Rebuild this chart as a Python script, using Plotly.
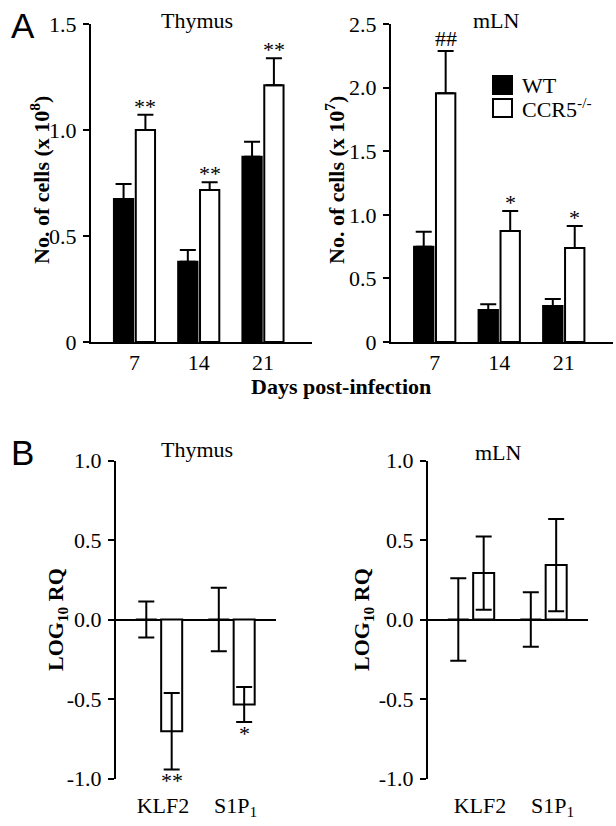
import plotly.graph_objects as go

# ---------------- data ----------------
days = ["7", "14", "21"]
thy_wt = [0.675, 0.379, 0.874]
thy_wt_err = [0.070, 0.055, 0.071]
thy_ko = [1.000, 0.717, 1.211]
thy_ko_err = [0.072, 0.036, 0.127]
thy_marks = ["**", "**", "**"]

mln_wt = [0.749, 0.252, 0.283]
mln_wt_err = [0.118, 0.044, 0.055]
mln_ko = [1.955, 0.873, 0.739]
mln_ko_err = [0.333, 0.157, 0.173]
mln_marks = ["##", "*", "*"]

genes = ["KLF2", "S1P<sub>1</sub>"]
rq_thy_wt = [0.0, 0.0]
rq_thy_wt_err = [0.113, 0.200]
rq_thy_ko = [-0.703, -0.535]
rq_thy_ko_err = [0.240, 0.110]
rq_thy_marks = ["**", "*"]

rq_mln_wt = [0.0, 0.0]
rq_mln_wt_err = [0.260, 0.171]
rq_mln_ko = [0.292, 0.342]
rq_mln_ko_err = [0.230, 0.290]

SERIF = "Liberation Serif"
SANS = "Liberation Sans"
FS = 22
W, H = 616, 826


def px_x(p):
    return p / W


def px_y(p):
    return 1 - p / H


fig = go.Figure()

# geometry (in category units)
A_W = 0.30
A_OFF_WT = -0.32
A_OFF_KO = 0.02
B_W = 0.29
B_OFF_WT = -0.32
B_OFF_KO = 0.03


def add_pair(xa, ya, cats, wt, wterr, ko, koerr, w, owt, oko, onesided):
    common_line = dict(color="black", width=2)
    if onesided:
        ewt = dict(type="data", array=wterr, arrayminus=[0] * len(wterr), symmetric=False,
                   color="black", thickness=2, width=8)
        eko = dict(type="data", array=koerr, arrayminus=[0] * len(koerr), symmetric=False,
                   color="black", thickness=2, width=8)
    else:
        ewt = dict(type="data", array=wterr, color="black", thickness=2, width=8)
        eko = dict(type="data", array=koerr, color="black", thickness=2, width=8)
    fig.add_trace(go.Bar(x=cats, y=wt, name="WT", width=w, offset=owt,
                         marker=dict(color="black", line=common_line),
                         error_y=ewt, xaxis=xa, yaxis=ya, showlegend=False, hoverinfo="skip"))
    fig.add_trace(go.Bar(x=cats, y=ko, name="CCR5-/-", width=w, offset=oko,
                         marker=dict(color="white", line=common_line),
                         error_y=eko, xaxis=xa, yaxis=ya, showlegend=False, hoverinfo="skip"))


add_pair("x", "y", days, thy_wt, thy_wt_err, thy_ko, thy_ko_err, A_W, A_OFF_WT, A_OFF_KO, True)
add_pair("x2", "y2", days, mln_wt, mln_wt_err, mln_ko, mln_ko_err, A_W, A_OFF_WT, A_OFF_KO, True)
add_pair("x3", "y3", genes, rq_thy_wt, rq_thy_wt_err, rq_thy_ko, rq_thy_ko_err, B_W, B_OFF_WT, B_OFF_KO, False)
add_pair("x4", "y4", genes, rq_mln_wt, rq_mln_wt_err, rq_mln_ko, rq_mln_ko_err, B_W, B_OFF_WT, B_OFF_KO, False)

tickfont = dict(family=SERIF, size=FS, color="black")

yA_dom = [px_y(342), px_y(24)]
yB_dom = [px_y(778.5), px_y(460.5)]

xA_range = [-0.677, 2.763]
xB_range = [-0.593, 1.614]

axA_x = dict(type="category", showline=True, linecolor="black", linewidth=2, ticks="", ticklen=0,
             tickfont=tickfont, ticklabelstandoff=0, range=xA_range, showgrid=False,
             zeroline=False, automargin=False)
axB_x = dict(type="category", showline=False, ticks="", ticklen=0, tickfont=tickfont,
             ticklabelstandoff=11, range=xB_range, showgrid=False, zeroline=False,
             automargin=False)

axY = dict(showline=True, linecolor="black", linewidth=2, ticks="outside", ticklen=6,
           tickwidth=2, tickcolor="black", tickfont=tickfont, showgrid=False,
           zeroline=False, ticklabelstandoff=2, automargin=False)

fig.update_layout(
    width=W, height=H, margin=dict(l=0, r=0, t=0, b=0, autoexpand=False),
    paper_bgcolor="white", plot_bgcolor="white",
    barmode="overlay", showlegend=False, hovermode=False,
    font=dict(family=SERIF, size=FS, color="black"),
    xaxis=dict(axA_x, domain=[px_x(91), px_x(312)], anchor="y"),
    yaxis=dict(axY, domain=yA_dom, anchor="x", range=[0, 1.5],
               tickvals=[0, 0.5, 1.0, 1.5], ticktext=["0", "0.5", "1.0", "1.5"]),
    xaxis2=dict(axA_x, domain=[px_x(391), px_x(613)], anchor="y2"),
    yaxis2=dict(axY, domain=yA_dom, anchor="x2", range=[0, 2.5],
                tickvals=[0, 0.5, 1.0, 1.5, 2.0, 2.5],
                ticktext=["0", "0.5", "1.0", "1.5", "2.0", "2.5"]),
    xaxis3=dict(axB_x, domain=[px_x(116), px_x(276)], anchor="y3", ticklabelshift=4),
    yaxis3=dict(axY, domain=yB_dom, anchor="x3", range=[-1, 1],
                tickvals=[-1, -0.5, 0, 0.5, 1], ticktext=["-1.0", "-0.5", "0.0", "0.5", "1.0"],
                zeroline=True, zerolinecolor="black", zerolinewidth=2),
    xaxis4=dict(axB_x, domain=[px_x(428), px_x(588)], anchor="y4", ticklabelshift=9),
    yaxis4=dict(axY, domain=yB_dom, anchor="x4", range=[-1, 1],
                tickvals=[-1, -0.5, 0, 0.5, 1], ticktext=["-1.0", "-0.5", "0.0", "0.5", "1.0"],
                zeroline=True, zerolinecolor="black", zerolinewidth=2),
)

ann = []
txt = dict(family=SERIF, size=FS, color="black")
bold = dict(family=SERIF, size=FS, color="black")


def P(x, y, text, font=txt, **kw):
    d = dict(xref="paper", yref="paper", x=px_x(x), y=px_y(y), text=text, showarrow=False,
             xanchor="center", yanchor="middle", font=font)
    d.update(kw)
    return d


# significance marks above CCR5 bars (panel A)
for i in range(len(days)):
    ann.append(dict(xref="x", yref="y", x=i + A_OFF_KO + A_W / 2, y=thy_ko[i] + thy_ko_err[i],
                    text=thy_marks[i], showarrow=False, xanchor="center", yanchor="bottom",
                    yshift=-6, font=txt))
    ann.append(dict(xref="x2", yref="y2", x=i + A_OFF_KO + A_W / 2, y=mln_ko[i] + mln_ko_err[i],
                    text=mln_marks[i], showarrow=False, xanchor="center", yanchor="bottom",
                    yshift=(-2 if mln_marks[i] == "##" else -6), font=txt))
# significance marks below CCR5 bars (panel B thymus)
for i in range(len(genes)):
    ann.append(dict(xref="x3", yref="y3", x=i + B_OFF_KO + B_W / 2, y=rq_thy_ko[i] - rq_thy_ko_err[i],
                    text=rq_thy_marks[i], showarrow=False, xanchor="center", yanchor="top",
                    yshift=3, font=txt))

ann += [
    # panel titles
    P(197, 20, "Thymus"),
    P(497, 20, "mLN"),
    P(197, 449, "Thymus"),
    P(498, 452, "mLN"),
    # panel letters
    P(23, 26, "A", font=dict(family=SANS, size=35, color="black")),
    P(22, 453, "B", font=dict(family=SANS, size=35, color="black")),
    # axis titles
    P(40, 180, "<b>No. of cells (x 10<sup>8</sup>)</b>", font=bold, textangle=-90),
    P(335, 180, "<b>No. of cells (x 10<sup>7</sup>)</b>", font=bold, textangle=-90),
    P(341, 386, "<b>Days post-infection</b>", font=bold),
    P(57, 620, "<b>LOG<sub>10</sub> RQ</b>", font=bold, textangle=-90),
    P(363, 620, "<b>LOG<sub>10</sub> RQ</b>", font=bold, textangle=-90),
    # legend text
    P(520, 86, "WT", xanchor="left"),
    P(520, 108, "CCR5<sup>-/-</sup>", xanchor="left"),
]

shapes = [
    dict(type="rect", xref="paper", yref="paper", x0=px_x(493), x1=px_x(512), y0=px_y(94), y1=px_y(76),
         fillcolor="black", line=dict(color="black", width=2)),
    dict(type="rect", xref="paper", yref="paper", x0=px_x(493), x1=px_x(512), y0=px_y(117), y1=px_y(99),
         fillcolor="white", line=dict(color="black", width=2)),
]

fig.update_layout(annotations=ann, shapes=shapes)
fig.write_html("out.html", config={"displayModeBar": False, "staticPlot": True},
               post_script="document.body.style.margin='0';document.body.style.overflow='hidden';")
